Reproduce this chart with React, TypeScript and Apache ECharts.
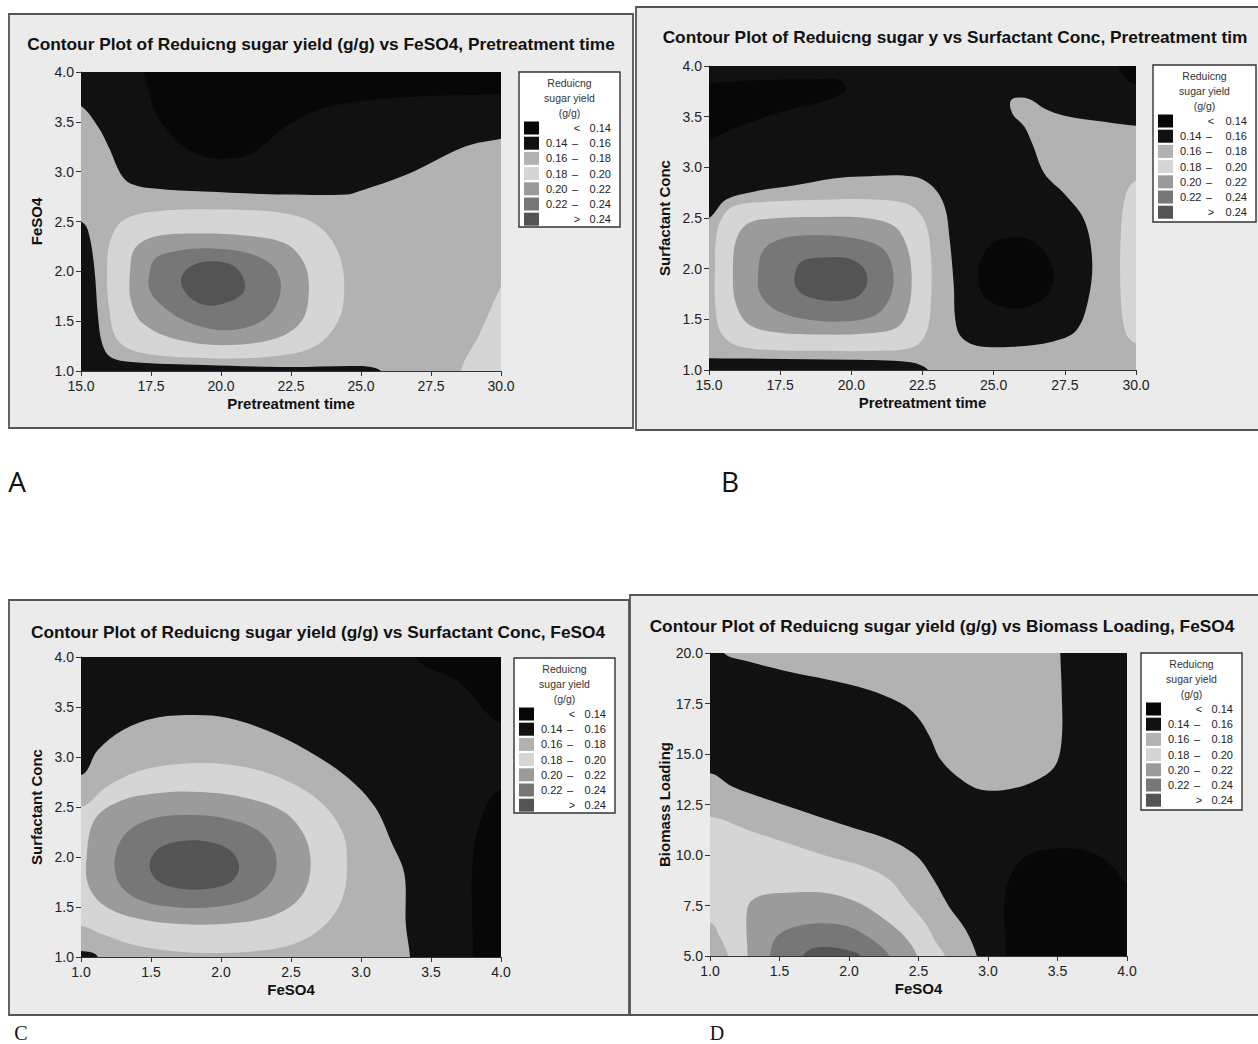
import React, { useEffect, useRef } from "react";
import * as echarts from "echarts";

type Pt = [number, number];
type Region = { level: number; pts: Pt[]; smooth?: number };

// ---------- legend / levels ----------
const LEVEL_BREAKS = [0.14, 0.16, 0.18, 0.2, 0.22, 0.24];
const LEVEL_COLORS = ["#070707", "#111111", "#b2b2b2", "#d5d5d5", "#9b9b9b", "#777777", "#545454"];
const LEGEND_TITLE = ["Reduicng", "sugar yield", "(g/g)"];

// ---------- titles & axes ----------
const TITLES = [
  "Contour Plot of Reduicng sugar yield (g/g) vs FeSO4, Pretreatment time",
  "Contour Plot of Reduicng sugar y vs Surfactant Conc, Pretreatment tim",
  "Contour Plot of Reduicng sugar yield (g/g) vs Surfactant Conc, FeSO4",
  "Contour Plot of Reduicng sugar yield (g/g) vs Biomass Loading, FeSO4",
];
const X_NAMES = ["Pretreatment time", "Pretreatment time", "FeSO4", "FeSO4"];
const Y_NAMES = ["FeSO4", "Surfactant Conc", "Surfactant Conc", "Biomass Loading"];
const X_RANGES: [number, number, number][] = [[15, 30, 2.5], [15, 30, 2.5], [1, 4, 0.5], [1, 4, 0.5]];
const Y_RANGES: [number, number, number][] = [[1, 4, 0.5], [1, 4, 0.5], [1, 4, 0.5], [5, 20, 2.5]];
const PANEL_LETTERS = ["A", "B", "C", "D"];

// ---------- Panel A contours (Pretreatment time x FeSO4) ----------
const A_BASE: Pt[] = [[14, 0], [31, 0], [31, 5], [14, 5]];
const A_TOP_016: Pt[] = [[14.5, 3.66], [15, 3.66], [15.61, 3.45], [16.05, 3.21], [16.41, 2.98], [16.78, 2.88], [17.65, 2.83], [19.4, 2.8], [22.3, 2.77], [24.5, 2.77], [24.9, 2.8], [26.7, 2.98], [28.7, 3.25], [30, 3.33], [30.5, 3.35], [30.5, 4.5], [14.5, 4.5]];
const A_TOP_014: Pt[] = [[17.4, 4.5], [17.5, 3.72], [18.2, 3.38], [19.1, 3.18], [20, 3.13], [21.1, 3.18], [22.3, 3.45], [23.8, 3.65], [26.7, 3.75], [30, 3.78], [30.5, 3.8], [30.5, 4.5]];
const A_LEFT_016: Pt[] = [[14.5, 2.5], [15, 2.5], [15.25, 2.41], [15.47, 2.05], [15.61, 1.54], [15.76, 1.27], [16.05, 1.14], [16.8, 1.09], [19.4, 1.06], [22.3, 1.04], [24.9, 1.05], [25.5, 1.03], [25.75, 0.98], [25.8, 0.5], [14.5, 0.5]];
const A_RIGHT_020: Pt[] = [[28.57, 0.5], [28.57, 1.0], [29.2, 1.35], [30, 1.85], [30.5, 2.1], [30.5, 0.5]];
const A_RING_020: Pt[] = [[16.05, 2.31], [16.5, 2.51], [17.65, 2.6], [20, 2.62], [22.3, 2.58], [23.5, 2.45], [24.2, 2.18], [24.4, 1.85], [24.2, 1.51], [23.3, 1.24], [21.6, 1.14], [19.4, 1.13], [17.2, 1.18], [16.3, 1.31], [16.0, 1.64], [15.93, 2.05]];
const A_RING_022: Pt[] = [[16.75, 1.98], [16.92, 2.23], [17.65, 2.35], [19.1, 2.38], [20.85, 2.36], [22.3, 2.28], [22.97, 2.08], [23.14, 1.81], [22.9, 1.51], [22, 1.33], [20.27, 1.26], [18.5, 1.31], [17.2, 1.48], [16.78, 1.71]];
const A_RING_024: Pt[] = [[17.43, 1.95], [17.65, 2.13], [18.52, 2.21], [19.69, 2.23], [21, 2.18], [21.87, 2.05], [22.14, 1.85], [21.87, 1.61], [21.15, 1.46], [19.98, 1.41], [18.67, 1.51], [17.8, 1.68], [17.46, 1.81]];
const A_CORE: Pt[] = [[18.57, 1.9], [18.82, 2.03], [19.54, 2.1], [20.42, 2.06], [20.83, 1.91], [20.78, 1.78], [20.13, 1.68], [19.47, 1.66], [18.88, 1.74]];

// ---------- Panel B contours (Pretreatment time x Surfactant Conc) ----------
const B_BASE: Pt[] = [[14, 0], [31, 0], [31, 5], [14, 5]];
const B_TOPLEFT_014: Pt[] = [[14.5, 3.27], [15, 3.27], [16, 3.4], [17.7, 3.56], [19.1, 3.66], [19.8, 3.76], [19.6, 3.86], [18.7, 3.87], [16.6, 3.86], [15, 3.83], [14.5, 3.83]];
const B_TOPRIGHT_014: Pt[] = [[29.4, 4.5], [29.4, 4.0], [29.7, 3.86], [30, 3.82], [30.5, 3.8], [30.5, 4.5]];
const B_MAIN_018: Pt[] = [[14.5, 2.5], [15, 2.5], [15.59, 2.68], [16.57, 2.76], [17.97, 2.82], [19.37, 2.89], [20.35, 2.91], [22.16, 2.91], [22.86, 2.81], [23.28, 2.61], [23.45, 2.3], [23.6, 1.83], [23.65, 1.5], [23.85, 1.33], [24.4, 1.24], [25.66, 1.23], [27.06, 1.28], [27.9, 1.39], [28.32, 1.69], [28.46, 2.08], [28.18, 2.48], [27.48, 2.74], [26.78, 2.94], [26.36, 3.23], [26.08, 3.4], [25.66, 3.53], [25.6, 3.66], [26.0, 3.69], [26.36, 3.66], [26.78, 3.58], [27.48, 3.51], [28.88, 3.45], [30, 3.41], [30.5, 3.4], [30.5, 0.5], [14.5, 0.5]];
const B_BOTTOM_016: Pt[] = [[14.5, 1.115], [15, 1.115], [20, 1.1], [22.0, 1.08], [22.5, 1.04], [22.72, 0.98], [22.8, 0.5], [14.5, 0.5]];
const B_BLOB_014: Pt[] = [[24.54, 2.08], [24.96, 2.25], [25.66, 2.31], [26.5, 2.25], [27.06, 2.02], [26.99, 1.79], [26.36, 1.64], [25.52, 1.61], [24.68, 1.72], [24.47, 1.88]];
const B_RIGHT_020: Pt[] = [[30.5, 2.87], [30, 2.87], [29.65, 2.74], [29.47, 2.35], [29.47, 1.69], [29.65, 1.36], [30, 1.26], [30.5, 1.26]];
const B_RING_020: Pt[] = [[15.21, 2.0], [15.25, 2.3], [15.45, 2.5], [15.9, 2.62], [17, 2.66], [19, 2.68], [21, 2.68], [22.1, 2.62], [22.6, 2.45], [22.8, 2.1], [22.8, 1.7], [22.65, 1.38], [22.2, 1.23], [21, 1.19], [19, 1.19], [17, 1.2], [15.9, 1.25], [15.4, 1.38], [15.22, 1.65]];
const B_RING_022: Pt[] = [[15.84, 1.95], [15.95, 2.28], [16.4, 2.45], [17.5, 2.5], [19, 2.51], [20.5, 2.5], [21.5, 2.42], [21.95, 2.22], [22.12, 1.92], [22.0, 1.6], [21.6, 1.42], [20.5, 1.36], [19, 1.35], [17.4, 1.37], [16.4, 1.45], [15.95, 1.65]];
const B_RING_024: Pt[] = [[16.72, 1.92], [16.9, 2.18], [17.6, 2.3], [18.8, 2.33], [20.1, 2.3], [21.1, 2.2], [21.45, 2.0], [21.4, 1.75], [20.9, 1.55], [19.8, 1.48], [18.4, 1.5], [17.3, 1.6], [16.8, 1.75]];
const B_CORE: Pt[] = [[18.0, 1.92], [18.25, 2.07], [19.0, 2.11], [19.9, 2.1], [20.45, 2.0], [20.55, 1.85], [20.2, 1.72], [19.4, 1.68], [18.5, 1.72], [18.1, 1.8]];

// ---------- Panel C contours (FeSO4 x Surfactant Conc) ----------
const C_BASE: Pt[] = [[0, 0], [5, 0], [5, 5], [0, 5]];
const C_RIGHT_014: Pt[] = [[4.5, 2.67], [4, 2.67], [3.89, 2.5], [3.8, 2.0], [3.8, 1.0], [3.8, 0.5], [4.5, 0.5]];
const C_CORNER_014: Pt[] = [[3.39, 4.5], [3.39, 4.0], [3.7, 3.75], [4, 3.34], [4.5, 3.3], [4.5, 4.5]];
const C_MAIN_018: Pt[] = [[0.5, 2.82], [1, 2.82], [1.12, 3.07], [1.3, 3.27], [1.53, 3.39], [1.82, 3.42], [2.05, 3.39], [2.32, 3.27], [2.61, 3.07], [2.9, 2.8], [3.1, 2.5], [3.22, 2.14], [3.31, 1.83], [3.32, 1.33], [3.35, 1.0], [3.36, 0.5], [0.5, 0.5]];
const C_CORNER_016: Pt[] = [[0.5, 1.06], [1, 1.06], [1.12, 1.0], [1.15, 0.5], [0.5, 0.5]];
const C_RING_020: Pt[] = [[0.5, 2.5], [1, 2.5], [1.18, 2.7], [1.44, 2.87], [1.82, 2.94], [2.17, 2.9], [2.46, 2.77], [2.72, 2.54], [2.87, 2.24], [2.9, 1.94], [2.87, 1.6], [2.75, 1.33], [2.52, 1.13], [2.17, 1.05], [1.73, 1.05], [1.38, 1.12], [1.15, 1.23], [1, 1.31], [0.5, 1.31]];
const C_RING_022: Pt[] = [[1.04, 2.0], [1.1, 2.38], [1.3, 2.57], [1.6, 2.645], [1.85, 2.65], [2.15, 2.6], [2.45, 2.45], [2.6, 2.2], [2.64, 1.9], [2.58, 1.62], [2.4, 1.43], [2.1, 1.34], [1.7, 1.33], [1.36, 1.4], [1.15, 1.53], [1.05, 1.73]];
const C_RING_024: Pt[] = [[1.24, 1.95], [1.31, 2.22], [1.5, 2.38], [1.78, 2.42], [2.05, 2.38], [2.28, 2.25], [2.39, 2.03], [2.37, 1.78], [2.22, 1.59], [1.95, 1.5], [1.66, 1.5], [1.42, 1.57], [1.28, 1.72]];
const C_CORE: Pt[] = [[1.49, 1.92], [1.55, 2.08], [1.72, 2.16], [1.92, 2.15], [2.07, 2.06], [2.13, 1.9], [2.07, 1.75], [1.9, 1.68], [1.68, 1.69], [1.54, 1.77]];

// ---------- Panel D contours (FeSO4 x Biomass Loading) ----------
const D_BASE: Pt[] = [[0, 0], [5, 0], [5, 25], [0, 25]];
const D_BLOB_014: Pt[] = [[3.13, 4], [3.13, 5], [3.13, 8.27], [3.27, 9.92], [3.53, 10.33], [3.76, 10.09], [3.92, 9.26], [4, 8.6], [4.5, 8.3], [4.5, 4]];
const D_TOP_018: Pt[] = [[1.1, 21], [1.1, 20], [1.27, 19.59], [1.56, 19.09], [1.85, 18.68], [2.14, 18.18], [2.37, 17.52], [2.49, 16.86], [2.58, 15.87], [2.66, 14.71], [2.81, 13.72], [2.95, 13.23], [3.15, 13.26], [3.33, 13.64], [3.48, 14.38], [3.53, 15.7], [3.53, 18.18], [3.52, 20], [3.52, 21]];
const D_LOW_018: Pt[] = [[0.5, 14.05], [1, 14.05], [1.16, 13.39], [1.42, 12.73], [1.71, 12.07], [2.0, 11.41], [2.29, 10.75], [2.49, 9.92], [2.61, 8.77], [2.72, 7.44], [2.84, 6.29], [2.92, 5.0], [2.94, 4], [0.5, 4]];
const D_LOW_020: Pt[] = [[0.5, 11.9], [1, 11.9], [1.27, 11.24], [1.56, 10.58], [1.85, 9.92], [2.11, 9.42], [2.29, 8.77], [2.43, 7.6], [2.55, 6.62], [2.63, 5.63], [2.69, 5.0], [2.7, 4], [0.5, 4]];
const D_CORNER_018: Pt[] = [[0.5, 6.65], [1, 6.65], [1.07, 5.96], [1.13, 5.0], [1.14, 4], [0.5, 4]];
const D_LOW_022: Pt[] = [[1.27, 4], [1.27, 5], [1.27, 7.4], [1.35, 7.95], [1.56, 8.13], [1.85, 8.11], [2.08, 7.6], [2.26, 6.79], [2.4, 5.96], [2.49, 5], [2.5, 4]];
const D_LOW_024: Pt[] = [[1.42, 4], [1.43, 5], [1.48, 5.96], [1.62, 6.46], [1.8, 6.62], [2.0, 6.45], [2.17, 5.79], [2.29, 5], [2.3, 4]];
const D_CORE: Pt[] = [[1.65, 4], [1.67, 5], [1.74, 5.38], [1.88, 5.43], [2.03, 5.21], [2.08, 5], [2.09, 4]];

const PANEL_REGIONS: Region[][] = [
  [
    { level: 2, pts: A_BASE, smooth: 0 },
    { level: 1, pts: A_TOP_016 },
    { level: 0, pts: A_TOP_014 },
    { level: 1, pts: A_LEFT_016 },
    { level: 3, pts: A_RIGHT_020 },
    { level: 3, pts: A_RING_020 },
    { level: 4, pts: A_RING_022 },
    { level: 5, pts: A_RING_024 },
    { level: 6, pts: A_CORE },
  ],
  [
    { level: 1, pts: B_BASE, smooth: 0 },
    { level: 0, pts: B_TOPLEFT_014 },
    { level: 0, pts: B_TOPRIGHT_014 },
    { level: 2, pts: B_MAIN_018 },
    { level: 1, pts: B_BOTTOM_016 },
    { level: 0, pts: B_BLOB_014 },
    { level: 3, pts: B_RIGHT_020 },
    { level: 3, pts: B_RING_020 },
    { level: 4, pts: B_RING_022 },
    { level: 5, pts: B_RING_024 },
    { level: 6, pts: B_CORE },
  ],
  [
    { level: 1, pts: C_BASE, smooth: 0 },
    { level: 0, pts: C_RIGHT_014 },
    { level: 0, pts: C_CORNER_014 },
    { level: 2, pts: C_MAIN_018 },
    { level: 1, pts: C_CORNER_016 },
    { level: 3, pts: C_RING_020 },
    { level: 4, pts: C_RING_022 },
    { level: 5, pts: C_RING_024 },
    { level: 6, pts: C_CORE },
  ],
  [
    { level: 1, pts: D_BASE, smooth: 0 },
    { level: 0, pts: D_BLOB_014 },
    { level: 2, pts: D_TOP_018 },
    { level: 2, pts: D_LOW_018 },
    { level: 3, pts: D_LOW_020 },
    { level: 2, pts: D_CORNER_018 },
    { level: 4, pts: D_LOW_022 },
    { level: 5, pts: D_LOW_024 },
    { level: 6, pts: D_CORE },
  ],
];

// ---------- layout (pixels) ----------
const FONT = "'Liberation Sans', Arial, sans-serif";
const GRIDS = [
  { left: 81, top: 72, width: 420, height: 299 },
  { left: 709, top: 66, width: 427, height: 304 },
  { left: 81, top: 657, width: 420, height: 300 },
  { left: 710, top: 653, width: 417, height: 303 },
];
const FRAMES = [
  { x: 9, y: 14, width: 624, height: 414 },
  { x: 636, y: 7, width: 630, height: 423 },
  { x: 9, y: 600, width: 620, height: 415 },
  { x: 630, y: 595, width: 636, height: 420 },
];
const TITLE_POS = [[321, 44], [955, 37], [318, 632], [942, 626]];
const LEGEND_BOX = [
  { x: 519, y: 72, w: 101, h: 155 },
  { x: 1153, y: 65, w: 103, h: 157 },
  { x: 514, y: 658, w: 101, h: 155 },
  { x: 1141, y: 653, w: 101, h: 157 },
];
const LETTER_POS = [[17, 481, "sans"], [730, 481, "sans"], [21, 1033, "serif"], [717, 1033, "serif"]];

function txt(x: number, y: number, text: string, opts: any = {}) {
  const align = opts.align || "left";
  const valign = opts.valign || "middle";
  return {
    type: "text",
    x,
    y,
    z: opts.z ?? 20,
    silent: true,
    rotation: opts.rotation || 0,
    style: {
      text,
      fill: opts.fill || "#111",
      fontSize: opts.size || 12,
      fontWeight: opts.weight || "normal",
      fontFamily: opts.family || FONT,
      align,
      textAlign: align,
      verticalAlign: valign,
      textVerticalAlign: valign,
    },
  };
}

function legendElements(box: { x: number; y: number; w: number; h: number }) {
  const els: any[] = [];
  els.push({
    type: "rect",
    z: 15,
    silent: true,
    shape: { x: box.x, y: box.y, width: box.w, height: box.h },
    style: { fill: "#ffffff", stroke: "#333333", lineWidth: 1.4 },
  });
  const cx = box.x + box.w / 2;
  LEGEND_TITLE.forEach((t, i) => {
    els.push(txt(cx, box.y + 11 + i * 15, t, { align: "center", size: 10.5, fill: "#333" }));
  });
  const n = LEVEL_BREAKS.length + 1;
  const fs = 11;
  for (let i = 0; i < n; i++) {
    const cy = box.y + 56 + i * 15.2;
    els.push({
      type: "rect",
      z: 16,
      silent: true,
      shape: { x: box.x + 5, y: cy - 6.5, width: 15, height: 13 },
      style: { fill: LEVEL_COLORS[i] },
    });
    const rightX = box.x + box.w - 9;
    if (i === 0) {
      els.push(txt(box.x + 58, cy, "<", { align: "center", size: fs, fill: "#222" }));
      els.push(txt(rightX, cy, LEVEL_BREAKS[0].toFixed(2), { align: "right", size: fs, fill: "#222" }));
    } else if (i === n - 1) {
      els.push(txt(box.x + 58, cy, ">", { align: "center", size: fs, fill: "#222" }));
      els.push(txt(rightX, cy, LEVEL_BREAKS[n - 2].toFixed(2), { align: "right", size: fs, fill: "#222" }));
    } else {
      els.push(txt(box.x + 27, cy, LEVEL_BREAKS[i - 1].toFixed(2), { align: "left", size: fs, fill: "#222" }));
      els.push(txt(box.x + 56, cy, "–", { align: "center", size: fs, fill: "#222" }));
      els.push(txt(rightX, cy, LEVEL_BREAKS[i].toFixed(2), { align: "right", size: fs, fill: "#222" }));
    }
  }
  return els;
}

function buildOption() {
  const graphics: any[] = [];
  FRAMES.forEach((f) => {
    graphics.push({
      type: "rect",
      z: -10,
      silent: true,
      shape: { x: f.x, y: f.y, width: f.width, height: f.height },
      style: { fill: "#ebebeb", stroke: "#555555", lineWidth: 1.8 },
    });
  });
  TITLES.forEach((t, i) => {
    graphics.push(txt(TITLE_POS[i][0], TITLE_POS[i][1], t, { align: "center", size: 17.3, weight: "bold", fill: "#111" }));
  });
  LEGEND_BOX.forEach((b) => graphics.push(...legendElements(b)));
  PANEL_LETTERS.forEach((l, i) => {
    const [x, y, kind] = LETTER_POS[i] as [number, number, string];
    graphics.push(
      txt(x, y, l, {
        align: "center",
        size: kind === "sans" ? 28 : 20,
        family: kind === "sans" ? "'Open Sans', 'Liberation Sans', sans-serif" : "'Liberation Serif', 'DejaVu Serif', serif",
        fill: "#111",
      })
    );
  });

  const axisCommon = (i: number) => ({
    gridIndex: i,
    type: "value",
    nameLocation: "middle",
    nameTextStyle: { fontFamily: FONT, fontWeight: "bold", fontSize: 15, color: "#111" },
    axisLine: { show: true, onZero: false, lineStyle: { color: "#333", width: 1 } },
    axisTick: { show: true, length: 5, lineStyle: { color: "#333", width: 1 } },
    axisLabel: { formatter: (v: number) => v.toFixed(1), fontSize: 14, color: "#222", fontFamily: FONT },
    splitLine: { show: false },
  });

  const xAxis = X_RANGES.map(([min, max, interval], i) => ({
    ...axisCommon(i),
    min,
    max,
    interval,
    name: X_NAMES[i],
    nameGap: 25,
    axisLabel: { ...axisCommon(i).axisLabel, margin: 8 },
  }));
  const yAxis = Y_RANGES.map(([min, max, interval], i) => ({
    ...axisCommon(i),
    min,
    max,
    interval,
    name: Y_NAMES[i],
    nameGap: 37,
    axisLabel: { ...axisCommon(i).axisLabel, margin: 7 },
  }));

  const series = PANEL_REGIONS.map((regions, i) => ({
    type: "custom",
    name: "panel" + i,
    xAxisIndex: i,
    yAxisIndex: i,
    clip: true,
    silent: true,
    z: 2,
    data: regions.map((r) => r.pts[0]),
    encode: { x: 0, y: 1 },
    renderItem: (params: any, api: any) => {
      const r = regions[params.dataIndex];
      const points = r.pts.map((p) => api.coord(p));
      return {
        type: "polygon",
        shape: { points, smooth: r.smooth ?? 0.35 },
        style: { fill: LEVEL_COLORS[r.level], stroke: "none" },
      };
    },
  }));

  return {
    animation: false,
    backgroundColor: "#ffffff",
    grid: GRIDS.map((g) => ({ ...g, containLabel: false })),
    xAxis,
    yAxis,
    series,
    graphic: { elements: graphics },
  };
}

export default function App() {
  const ref = useRef<HTMLDivElement>(null);
  useEffect(() => {
    if (!ref.current) return;
    const chart = echarts.init(ref.current, undefined, { renderer: "svg" });
    chart.setOption(buildOption() as any);
    return () => chart.dispose();
  }, []);
  return (
    <div
      ref={ref}
      style={{ position: "absolute", left: 0, top: 0, width: 1258, height: 1044, background: "#fff" }}
    />
  );
}
